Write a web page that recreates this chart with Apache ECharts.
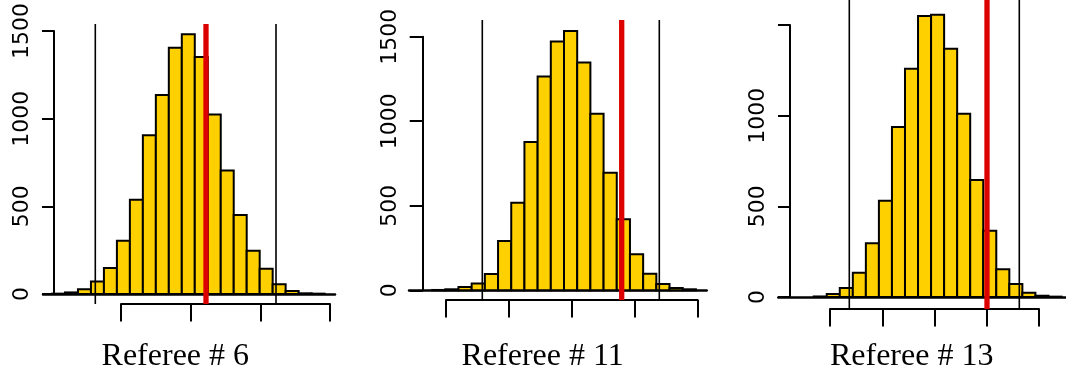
<!DOCTYPE html>
<html>
<head>
<meta charset="utf-8">
<script src="https://cdn.jsdelivr.net/npm/echarts@6/dist/echarts.min.js"></script>
<style>
  html, body { margin: 0; padding: 0; background: #fff; }
  #chart { width: 1066px; height: 379px; }
</style>
</head>
<body>
<div id="chart"></div>
<script>
// ---- data (x values in units of the lower axis ticks) ----
const panelTitles = ['Referee # 6', 'Referee # 11', 'Referee # 13'];

const counts6  = [2, 9, 27, 71, 148, 304, 538, 906, 1135, 1404, 1481, 1351, 1024, 705, 450, 247, 144, 56, 17, 4, 2];
const counts11 = [2, 6, 19, 40, 97, 292, 518, 877, 1264, 1471, 1534, 1347, 1045, 696, 420, 213, 98, 38, 13, 6];
const counts13 = [3, 17, 49, 134, 296, 531, 937, 1259, 1549, 1556, 1369, 1010, 645, 366, 153, 72, 23, 7, 2];

const binStart = [-0.9904, -0.2209, -0.3120];
const binWidth = [0.18632, 0.20962, 0.2496];

const blackLines6  = [-0.3689, 2.2249];
const blackLines11 = [0.5769, 3.3898];
const blackLines13 = [0.3694, 3.6230];
const redLines = [1.2201, 2.7922, 3.0048];

const yTicks = [0, 500, 1000, 1500];
const yTickLabels6  = ['0', '500', '1000', '1500'];
const yTickLabels11 = ['0', '500', '1000', '1500'];
const yTickLabels13 = ['0', '500', '1000', ''];
const xTicks6  = [0, 1, 2, 3];
const xTicks11 = [0, 1, 2, 3, 4];
const xTicks13 = [0, 1, 2, 3, 4];

const panels = [
  { title: panelTitles[0], counts: counts6,  start: binStart[0], width: binWidth[0], black: blackLines6,  red: redLines[0], yLabels: yTickLabels6,  xTicks: xTicks6 },
  { title: panelTitles[1], counts: counts11, start: binStart[1], width: binWidth[1], black: blackLines11, red: redLines[1], yLabels: yTickLabels11, xTicks: xTicks11 },
  { title: panelTitles[2], counts: counts13, start: binStart[2], width: binWidth[2], black: blackLines13, red: redLines[2], yLabels: yTickLabels13, xTicks: xTicks13 }
];

// ---- layout (pixels) ----
const layout = [
  { gridLeft: 43,    gridRight: 335,   yAxisX: 54,    yTop: 30.7, yBottom: 294,   lineTop: 24, lineBottom: 304, axLeft: 121, axRight: 330,   yTickLen: 12, titleX: 175.3 },
  { gridLeft: 409,   gridRight: 706.7, yAxisX: 422.7, yTop: 36.7, yBottom: 290.3, lineTop: 20, lineBottom: 300, axLeft: 446, axRight: 697.7, yTickLen: 13, titleX: 542.7 },
  { gridLeft: 778.3, gridRight: 1066,  yAxisX: 790,   yTop: 25,   yBottom: 297,   lineTop: -5, lineBottom: 309, axLeft: 830, axRight: 1039,  yTickLen: 12, titleX: 911.7 }
];

const BAR = '#FFD000';
const RED = '#DD0000';

const grid = [], xAxis = [], yAxis = [], series = [], graphic = [];

panels.forEach((p, i) => {
  const L = layout[i];
  const nT = p.xTicks[p.xTicks.length - 1] - p.xTicks[0];
  const unitPx = (L.axRight - L.axLeft) / nT;
  const xMin = p.xTicks[0] + (L.gridLeft - L.axLeft) / unitPx;
  const xMax = p.xTicks[0] + (L.gridRight - L.axLeft) / unitPx;
  const base = i * 3;

  // grid A: histogram + y axis + baseline
  grid.push({ left: L.gridLeft, top: L.yTop, width: L.gridRight - L.gridLeft, height: L.yBottom - L.yTop });
  // grid B: reference lines region
  grid.push({ left: L.gridLeft, top: L.lineTop, width: L.gridRight - L.gridLeft, height: L.lineBottom - L.lineTop });
  // grid C: lower axis
  grid.push({ left: L.axLeft, top: L.lineBottom - 40, width: L.axRight - L.axLeft, height: 40 });

  xAxis.push({
    gridIndex: base, type: 'value', min: xMin, max: xMax,
    axisLine: { show: true, onZero: false, lineStyle: { color: '#000', width: 2.5 } },
    axisTick: { show: false }, axisLabel: { show: false }, splitLine: { show: false }
  });
  yAxis.push({
    gridIndex: base, type: 'value', min: yTicks[0], max: yTicks[yTicks.length - 1], interval: 500,
    offset: -(L.yAxisX - L.gridLeft),
    axisLine: { show: true, onZero: false, lineStyle: { color: '#000', width: 2 } },
    axisTick: { show: true, length: L.yTickLen, lineStyle: { color: '#000', width: 2 } },
    axisLabel: {
      show: true, rotate: 90, margin: 21, color: '#000',
      fontFamily: 'DejaVu Sans', fontSize: 22,
      formatter: v => { const k = yTicks.indexOf(v); return k >= 0 ? p.yLabels[k] : ''; }
    },
    splitLine: { show: false }
  });

  xAxis.push({ gridIndex: base + 1, type: 'value', min: xMin, max: xMax, show: false });
  yAxis.push({ gridIndex: base + 1, type: 'value', min: 0, max: 1, show: false });

  xAxis.push({
    gridIndex: base + 2, type: 'value', min: p.xTicks[0], max: p.xTicks[p.xTicks.length - 1], interval: 1,
    axisLine: { show: true, onZero: false, lineStyle: { color: '#000', width: 2 } },
    axisTick: { show: true, length: 17.5, lineStyle: { color: '#000', width: 2 } },
    axisLabel: { show: false }, splitLine: { show: false }
  });
  yAxis.push({ gridIndex: base + 2, type: 'value', min: 0, max: 1, show: false });

  // histogram bars
  const bins = p.counts.map((c, k) => [p.start + k * p.width, p.start + (k + 1) * p.width, c]);
  series.push({
    type: 'custom', xAxisIndex: base, yAxisIndex: base, clip: false, z: 2,
    data: bins,
    renderItem: (params, api) => {
      const a = api.coord([api.value(0), api.value(2)]);
      const b = api.coord([api.value(1), 0]);
      return {
        type: 'rect',
        shape: { x: a[0], y: a[1], width: b[0] - a[0], height: b[1] - a[1] },
        style: { fill: BAR, stroke: '#000', lineWidth: 2 }
      };
    }
  });

  // reference vertical lines
  const vline = (color, w) => (params, api) => {
    const cs = params.coordSys;
    const x = api.coord([api.value(0), 0])[0];
    return { type: 'line', shape: { x1: x, y1: cs.y, x2: x, y2: cs.y + cs.height }, style: { stroke: color, lineWidth: w } };
  };
  series.push({
    type: 'custom', xAxisIndex: base + 1, yAxisIndex: base + 1, z: 3,
    data: p.black.map(v => [v]), renderItem: vline('#000', 1.6)
  });
  series.push({
    type: 'custom', xAxisIndex: base + 1, yAxisIndex: base + 1, z: 4,
    data: [[p.red]], renderItem: vline(RED, 5.3)
  });

  graphic.push({
    type: 'text', x: L.titleX, y: 357,
    style: { text: p.title, align: 'center', verticalAlign: 'middle', fill: '#000',
             font: '32px "Liberation Serif"' }
  });
});

const chart = echarts.init(document.getElementById('chart'), null, { renderer: 'canvas' });
chart.setOption({ animation: false, backgroundColor: '#fff', grid, xAxis, yAxis, series, graphic });
</script>
</body>
</html>
